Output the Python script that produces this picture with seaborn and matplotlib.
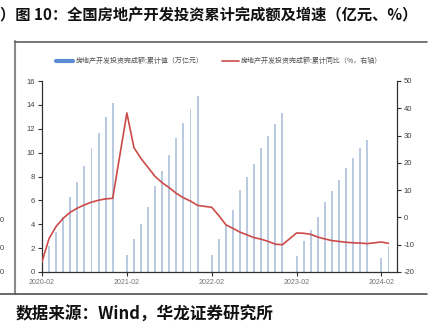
import matplotlib
matplotlib.use("Agg")
import matplotlib.pyplot as plt
import seaborn as sns
import pandas as pd
from matplotlib.lines import Line2D

# ---------------- data ----------------
months = [
    "2020-02", "2020-03", "2020-04", "2020-05", "2020-06", "2020-07", "2020-08", "2020-09", "2020-10", "2020-11", "2020-12",
    "2021-02", "2021-03", "2021-04", "2021-05", "2021-06", "2021-07", "2021-08", "2021-09", "2021-10", "2021-11", "2021-12",
    "2022-02", "2022-03", "2022-04", "2022-05", "2022-06", "2022-07", "2022-08", "2022-09", "2022-10", "2022-11", "2022-12",
    "2023-02", "2023-03", "2023-04", "2023-05", "2023-06", "2023-07", "2023-08", "2023-09", "2023-10", "2023-11", "2023-12",
    "2024-02", "2024-03",
]
# 房地产开发投资完成额:累计值（万亿元）
invest_cum = [
    1.01, 2.20, 3.31, 4.59, 6.28, 7.53, 8.85, 10.35, 11.66, 12.95, 14.14,
    1.40, 2.76, 4.02, 5.43, 7.22, 8.49, 9.81, 11.26, 12.49, 13.69, 14.76,
    1.45, 2.78, 3.92, 5.21, 6.83, 7.95, 9.08, 10.36, 11.39, 12.39, 13.29,
    1.37, 2.60, 3.55, 4.57, 5.86, 6.77, 7.69, 8.73, 9.59, 10.40, 11.09,
    1.18, 2.21,
]
# 房地产开发投资完成额:累计同比（%，右轴）
yoy = [
    -16.3, -7.7, -3.3, -0.3, 1.9, 3.4, 4.6, 5.6, 6.3, 6.8, 7.0,
    38.3, 25.6, 21.6, 18.3, 15.0, 12.7, 10.9, 8.8, 7.2, 6.0, 4.4,
    3.7, 0.7, -2.7, -4.0, -5.4, -6.4, -7.4, -8.0, -8.8, -9.8, -10.0,
    -5.7, -5.8, -6.2, -7.2, -7.9, -8.5, -8.8, -9.1, -9.3, -9.4, -9.6,
    -9.0, -9.5,
]
xtick_labels = ["2020-02", "2021-02", "2022-02", "2023-02", "2024-02"]
left_ticks = [0, 2, 4, 6, 8, 10, 12, 14, 16]
right_ticks = [-20, -10, 0, 10, 20, 30, 40, 50]

label_bar = "房地产开发投资完成额:累计值（万亿元）"
label_line = "房地产开发投资完成额:累计同比（%，右轴）"
title = "）图 10：全国房地产开发投资累计完成额及增速（亿元、%）"
source = "数据来源：Wind，华龙证券研究所"

# month index (months since 2020-02)
def month_pos(s):
    y, m = s.split("-")
    return (int(y) - 2020) * 12 + int(m) - 2

df = pd.DataFrame({"pos": [month_pos(m) for m in months],
                   "cum": invest_cum, "yoy": yoy})

# ---------------- style ----------------
sns.set_style("ticks")
plt.rcParams["font.family"] = ["Liberation Sans", "Noto Sans CJK SC", "DejaVu Sans"]

W, H = 446, 334
fig = plt.figure(figsize=(W / 100, H / 100), dpi=100)
ax = fig.add_axes([42 / W, 1 - 272 / H, (397 - 42) / W, (272 - 81) / H])

bar_color = "#b3cae8"
red = "#cc4a48"

sns.barplot(data=df, x="pos", y="cum", native_scale=True, width=0.27,
            color=bar_color, linewidth=0, ax=ax)
ax2 = ax.twinx()
sns.lineplot(data=df, x="pos", y="yoy", color=red, linewidth=1.2, ax=ax2)

ax.set_xlim(0, 50.2)
ax.set_ylim(0, 16)
ax2.set_ylim(-20, 50)
ax.set_yticks(left_ticks)
ax.set_yticklabels([str(t) for t in left_ticks])
ax2.set_yticks(right_ticks)
ax2.set_yticklabels([str(t) for t in right_ticks])
ax.set_xticks([month_pos(s) for s in xtick_labels])
ax.set_xticklabels(xtick_labels)
for a in (ax, ax2):
    a.set_xlabel("")
    a.set_ylabel("")
    a.grid(False)

spine_c = "#303030"
for s in ["top", "right"]:
    ax.spines[s].set_visible(False)
for s in ["top", "left", "bottom"]:
    ax2.spines[s].set_visible(False)
ax.spines["left"].set_color(spine_c)
ax.spines["bottom"].set_color(spine_c)
ax2.spines["right"].set_color(spine_c)
for sp in (ax.spines["left"], ax.spines["bottom"], ax2.spines["right"]):
    sp.set_linewidth(0.9)

ax.tick_params(axis="y", length=3, width=0.8, color=spine_c, labelsize=5.5,
               labelcolor="#404040", pad=2)
ax2.tick_params(axis="y", length=3, width=0.8, color=spine_c, labelsize=5.5,
                labelcolor="#404040", pad=2)
ax.tick_params(axis="x", length=3, width=0.8, color=spine_c, labelsize=5,
               labelcolor="#707070", pad=2)

handles = [Line2D([], [], color="#5b8bd0", lw=3),
           Line2D([], [], color=red, lw=1.2)]
leg = ax.legend(handles, [label_bar, label_line], loc="center",
                bbox_to_anchor=(0.5, 1.105), ncol=2, frameon=False,
                prop={"family": ["Noto Sans CJK SC"], "size": 5},
                handlelength=2.4, handletextpad=0.4, columnspacing=2.6,
                labelcolor="#505050")

# ---------------- page decorations ----------------
fig.text(0 / W, 1 - 15 / H, title, ha="left", va="center", fontsize=11,
         fontweight="bold", family=["Noto Sans CJK SC"], color="#111111")
fig.text(16 / W, 1 - 315 / H, source, ha="left", va="center", fontsize=12,
         fontweight="bold", family=["Noto Sans CJK SC", "Liberation Serif"],
         color="#111111")

def fline(x0, y0, x1, y1, **kw):
    fig.add_artist(Line2D([x0 / W, x1 / W], [1 - y0 / H, 1 - y1 / H],
                          transform=fig.transFigure, **kw))

fline(15, 41, 15, 294, color="#8a8a8a", lw=1.5)
fline(15, 42, 427, 42, color="#606060", lw=1.2)
fline(0, 294, 427, 294, color="#505050", lw=1.2)

for yy in (220, 248, 273):
    fig.text(2 / W, 1 - yy / H, "0", ha="center", va="center", fontsize=5.5,
             color="#404040")

fig.savefig("out.png", dpi=100)
